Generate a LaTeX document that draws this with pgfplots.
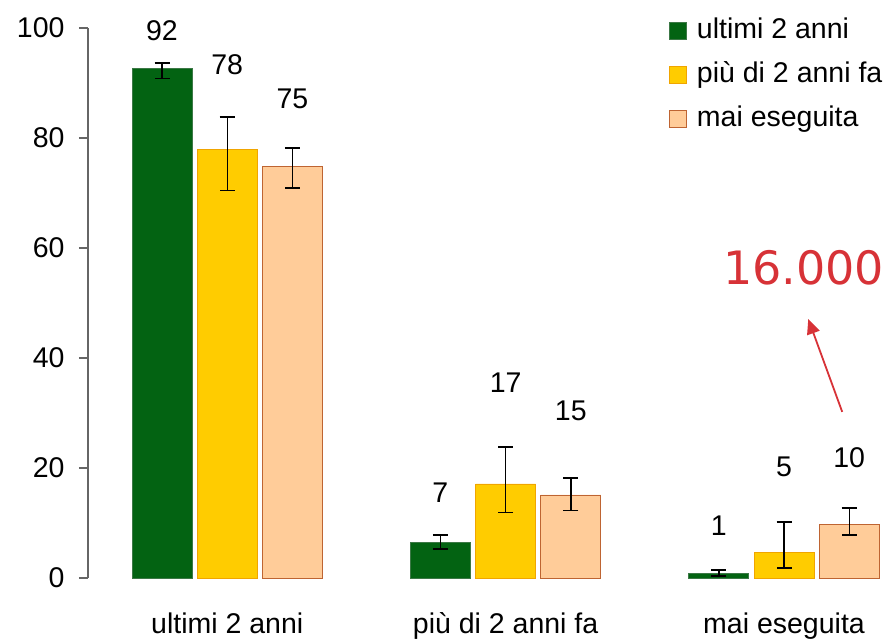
\documentclass[border=0pt]{standalone}
\usepackage{fontspec}
\setmainfont{Liberation Sans}
\newfontfamily\dejavu{DejaVu Sans}
\usepackage{pgfplots}
\usepackage{pgfplotstable}
\pgfplotsset{compat=1.18}
\usetikzlibrary{arrows.meta}

\definecolor{cGreen}{RGB}{3,99,18}
\definecolor{cGreenE}{RGB}{60,120,70}
\definecolor{cYellow}{RGB}{255,204,0}
\definecolor{cYellowE}{RGB}{240,165,0}
\definecolor{cPeach}{RGB}{255,204,153}
\definecolor{cPeachE}{RGB}{190,100,50}
\definecolor{cRed}{RGB}{215,50,55}

\newcommand{\bigfont}{\fontsize{28.5}{34}\selectfont}

% x = category index, y = value, ep / em = error up / down
\pgfplotstableread{
x y ep em
0 92.6 1.0 1.8
1 6.4 1.4 1.1
2 0.8 0.65 0.4
}\recent
\pgfplotstableread{
x y ep em
0 77.9 5.9 7.4
1 17.1 6.7 5.2
2 4.7 5.5 2.9
}\older
\pgfplotstableread{
x y ep em
0 74.8 3.4 3.9
1 15.1 3.1 2.8
2 9.8 2.9 2.0
}\never

% offset of the side bars in x units (65.2pt / 278.4pt per unit)
\def\off{0.2342}

\pgfplotsset{
  errbar/.style={
    forget plot, sharp plot, draw=none, mark=none,
    error bars/.cd, y dir=both, y explicit,
    error bar style={draw=black, line width=1.4pt},
    error mark options={draw=black, line width=1.4pt, mark size=7.5pt, rotate=90}},
}

\begin{document}
\begin{tikzpicture}
\begin{axis}[
    name=ax,
    scale only axis,
    width=805pt, height=550pt,
    xmin=-0.5, xmax=2.3914,
    ymin=0, ymax=100,
    axis lines*=left,
    x axis line style={draw=none},
    y axis line style={draw=black!60, line width=1.2pt},
    ytick={0,20,...,100},
    tick align=outside,
    major tick length=9pt,
    ytick style={draw=black!60, line width=1.2pt},
    xtick={0,1,2},
    xticklabels={ultimi 2 anni, più di 2 anni fa, mai eseguita},
    xtick style={draw=none},
    xticklabel style={yshift=-22pt},
    yticklabel style={xshift=-11pt},
    tick label style={font=\bigfont},
    /pgf/number format/assume math mode=true,
    clip=false,
    legend image code/.code={\draw[#1] (0pt,-8.5pt) rectangle (17pt,8.5pt);},
    legend style={draw=none, fill=none, at={(0.7217,1.022)}, anchor=north west,
        font=\bigfont, inner sep=0pt, row sep=15pt,
        nodes={inner sep=1pt, text height=21pt, text depth=6pt},
        /tikz/every odd column/.append style={column sep=9pt}},
    legend cell align=left,
]
\addplot[ybar, bar width=60pt, bar shift=-65.2pt, fill=cGreen, draw=cGreenE, line width=0.8pt]
    table[x=x, y=y] {\recent};
\addplot[ybar, bar width=60pt, bar shift=0pt, fill=cYellow, draw=cYellowE, line width=0.8pt]
    table[x=x, y=y] {\older};
\addplot[ybar, bar width=60pt, bar shift=65.2pt, fill=cPeach, draw=cPeachE, line width=0.8pt]
    table[x=x, y=y] {\never};
\legend{ultimi 2 anni, più di 2 anni fa, mai eseguita}

% error bars, at the centres of the bars
\addplot[errbar] table[x expr=\thisrow{x}-\off, y=y, y error plus=ep, y error minus=em] {\recent};
\addplot[errbar] table[x=x, y=y, y error plus=ep, y error minus=em] {\older};
\addplot[errbar] table[x expr=\thisrow{x}+\off, y=y, y error plus=ep, y error minus=em] {\never};

% value labels
\addplot[forget plot, sharp plot, draw=none, mark=none, nodes near coords, point meta=explicit symbolic,
    nodes near coords align=center,
    every node near coord/.append style={font=\bigfont, anchor=center, inner sep=0pt}]
    coordinates {(-0.2342,99.5) [92] (0,93.3) [78] (0.2342,87.1) [75]
                 (0.7658,15.5) [7] (1,35.6) [17] (1.2342,30.4) [15]
                 (1.7658,9.6) [1] (2,20.2) [5] (2.2342,21.8) [10]};

\node[text=cRed, font=\dejavu\fontsize{46}{50}\selectfont] at (axis cs:2.071,56.4) {16.000};
\draw[cRed, line width=1.8pt, -{Triangle[length=15pt,width=13pt]}]
    (axis cs:2.209,30.2) -- (axis cs:2.087,47.1);
\end{axis}
\pgfresetboundingbox
\path[use as bounding box] ([shift={(-88pt,-60pt)}]ax.south west) rectangle ([shift={(0pt,28pt)}]ax.north east);
\end{tikzpicture}
\end{document}
